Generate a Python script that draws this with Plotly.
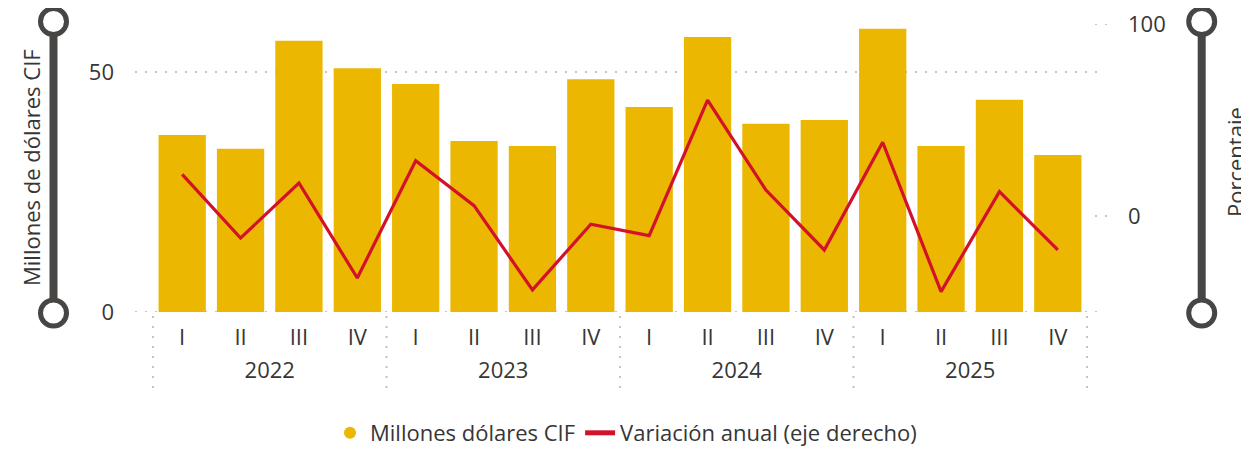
import plotly.graph_objects as go

# ---- data ----
years = ["2022"] * 4 + ["2023"] * 4 + ["2024"] * 4 + ["2025"] * 4
quarters = ["I", "II", "III", "IV"] * 4
millones_cif = [36.9, 34.0, 56.5, 50.8, 47.5, 35.6, 34.6, 48.5,
                42.7, 57.3, 39.2, 40.0, 59.0, 34.6, 44.2, 32.7]
variacion_anual = [21.7, -11.5, 17.2, -32.3, 28.8, 5.4, -38.5, -4.3,
                   -10.2, 60.4, 13.5, -17.7, 38.4, -39.4, 12.7, -17.7]
left_ticks = [0, 50]
right_ticks = [0, 100]

# category positions and year-group centres derived from the data
pos = list(range(len(quarters)))
year_labels = sorted(set(years))
year_centres = [sum(p for p, y in zip(pos, years) if y == yl) / years.count(yl)
                for yl in year_labels]

BAR = "#EBB700"
RED = "#D2112B"
TXT = "#363636"
GRID = "#c4c4c4"
DECO = "#484644"
FONT = "Open Sans"

OFF = 8  # page body margin
W, H = 1249 - OFF, 449 - OFF
L, R, T, B = 153 - OFF, 1087 - OFF, 24 - OFF, 312 - OFF


def px(x):  # screen x -> paper
    return (x - OFF - L) / (R - L)


def py(y):  # screen y -> paper
    return (B - (y - OFF)) / (B - T)


fig = go.Figure()
fig.add_trace(go.Bar(
    x=pos, y=millones_cif, name="Millones dólares CIF",
    marker=dict(color=BAR, line=dict(width=0)), showlegend=False,
))
fig.add_trace(go.Scatter(
    x=[None], y=[None], mode="markers", name="Millones dólares CIF",
    marker=dict(color=BAR, size=20, symbol="circle"),
))
fig.add_trace(go.Scatter(
    x=pos, y=variacion_anual, name="Variación anual (eje derecho)",
    mode="lines", line=dict(color=RED, width=3.2), yaxis="y2",
))
# carrier for the year-group axis (no visible marks)
fig.add_trace(go.Scatter(
    x=year_centres, y=[None] * len(year_centres), xaxis="x2", mode="markers",
    showlegend=False, hoverinfo="skip",
))

shapes = []
dot = "2px,8px"
for v in left_ticks:
    shapes.append(dict(type="line", xref="paper", yref="y", x0=px(135), x1=px(1100),
                       y0=v, y1=v, line=dict(color=GRID, width=2, dash=dot), layer="below"))
for v in right_ticks:
    shapes.append(dict(type="line", xref="paper", yref="y2", x0=px(1095), x1=px(1108),
                       y0=v, y1=v, line=dict(color=GRID, width=2, dash=dot), layer="below"))
for k in range(len(year_labels) + 1):
    xs = k / len(year_labels)
    shapes.append(dict(type="line", xref="paper", yref="paper", x0=xs, x1=xs,
                       y0=py(316), y1=py(392), line=dict(color=GRID, width=2, dash=dot)))

# decorative sliders
for cx in (53.5, 1201.7):
    shapes.append(dict(type="line", xref="paper", yref="paper", x0=px(cx), x1=px(cx),
                       y0=py(21.5), y1=py(313), line=dict(color=DECO, width=8)))
    for cy in (21.5, 313):
        r = 13
        shapes.append(dict(type="circle", xref="paper", yref="paper",
                           x0=px(cx - r), x1=px(cx + r), y0=py(cy + r), y1=py(cy - r),
                           fillcolor="white", line=dict(color=DECO, width=5)))

annotations = [
    dict(text="Millones de dólares CIF", xref="paper", yref="paper", x=px(31), y=py(168),
         textangle=-90, showarrow=False, xanchor="center", yanchor="middle",
         font=dict(family=FONT, size=22, color=TXT)),
    dict(text="Porcentaje", xref="paper", yref="paper", x=px(1235), y=py(162),
         textangle=-90, showarrow=False, xanchor="center", yanchor="middle",
         font=dict(family=FONT, size=22, color=TXT)),
]

xrange = [-0.5, len(pos) - 0.5]

fig.update_layout(
    width=W, height=H,
    margin=dict(l=L, r=W - R, t=T, b=H - B, autoexpand=False),
    paper_bgcolor="white", plot_bgcolor="white",
    font=dict(family=FONT, color=TXT, size=22),
    bargap=0.19,
    showlegend=True,
    legend=dict(orientation="h", xanchor="center", x=px(626), yanchor="middle", y=py(433),
                font=dict(family=FONT, size=22, color=TXT), itemsizing="constant",
                tracegroupgap=0, itemwidth=30),
    xaxis=dict(range=xrange, tickvals=pos, ticktext=quarters, showgrid=False,
               zeroline=False, showline=False, ticks="", ticklabelstandoff=10,
               tickfont=dict(size=22, color=TXT)),
    xaxis2=dict(range=xrange, tickvals=year_centres, ticktext=year_labels,
                overlaying="x", side="bottom", anchor="y", showgrid=False,
                zeroline=False, showline=False, ticks="", ticklabelstandoff=43,
                tickfont=dict(size=22, color=TXT)),
    yaxis=dict(range=[0, 60], tickvals=left_ticks, showgrid=False, zeroline=False,
               showline=False, ticks="", ticklabelstandoff=38, ticklabeloverflow="allow",
               tickfont=dict(size=22, color=TXT)),
    yaxis2=dict(range=[-50, 100], tickvals=right_ticks, overlaying="y", side="right",
                showgrid=False, zeroline=False, showline=False, ticks="",
                ticklabelstandoff=40, ticklabeloverflow="allow",
                tickfont=dict(size=22, color=TXT)),
    shapes=shapes,
    annotations=annotations,
)

fig.write_html("out.html")
